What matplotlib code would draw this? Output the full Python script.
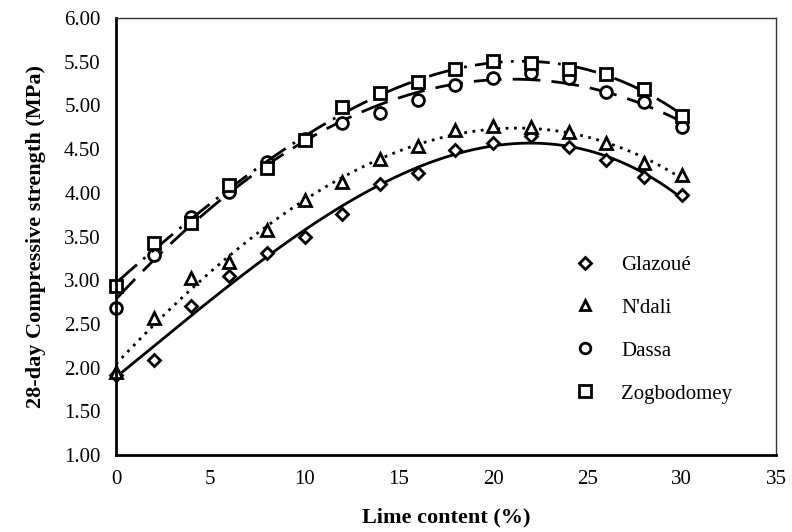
import numpy as np
import matplotlib
matplotlib.use("Agg")
import matplotlib.pyplot as plt

plt.rcParams["font.family"] = ["Liberation Serif", "DejaVu Serif"]

lime = [0, 2, 4, 6, 8, 10, 12, 14, 16, 18, 20, 22, 24, 26, 28, 30]
glazoue = [1.92, 2.09, 2.70, 3.05, 3.31, 3.49, 3.76, 4.10, 4.23, 4.49, 4.57, 4.65, 4.52, 4.38, 4.18, 3.97]
ndali = [1.95, 2.57, 3.03, 3.21, 3.57, 3.92, 4.12, 4.39, 4.53, 4.72, 4.76, 4.75, 4.69, 4.57, 4.34, 4.20]
dassa = [2.68, 3.29, 3.72, 4.01, 4.35, 4.61, 4.80, 4.91, 5.06, 5.23, 5.31, 5.37, 5.31, 5.15, 5.04, 4.75]
zogbo = [2.93, 3.43, 3.66, 4.09, 4.28, 4.60, 4.98, 5.14, 5.27, 5.42, 5.51, 5.48, 5.42, 5.36, 5.19, 4.88]

labels = ["Glazoué", "N'dali", "Dassa", "Zogbodomey"]
series = [glazoue, ndali, dassa, zogbo]
markers = ["D", "^", "o", "s"]
msizes = [6.5, 8.5, 8.5, 9]
styles = ["-", (0, (1, 2)), (0, (10, 4)), (0, (10, 3, 1, 3))]

fig = plt.figure(figsize=(7.92, 5.32), dpi=100)
ax = fig.add_axes([116 / 792, 1 - 455 / 532, 660 / 792, 437 / 532])

xs = np.linspace(0, 30, 200)
for y, lab, m, ms, ls in zip(series, labels, markers, msizes, styles):
    coef = np.polyfit(lime, y, 3)
    ax.plot(xs, np.polyval(coef, xs), color="black", lw=2, linestyle=ls)
    ax.plot(lime, y, linestyle="none", marker=m, ms=ms, mfc="white",
            mec="black", mew=2, label=lab, clip_on=False)

ax.set_xlim(0, 35)
ax.set_ylim(1, 6)
ax.set_xticks(range(0, 36, 5))
ax.set_yticks(np.arange(1, 6.01, 0.5))
ax.set_yticklabels([f"{v:.2f}" for v in np.arange(1, 6.01, 0.5)])
ax.tick_params(length=0, labelsize=15, pad=11)
ax.tick_params(axis="y", pad=11)

for s in ["left", "bottom"]:
    ax.spines[s].set_linewidth(2)
for s in ["top", "right"]:
    ax.spines[s].set_linewidth(1)
    ax.spines[s].set_color("#333333")

ax.set_xlabel("Lime content (%)", fontsize=16, fontweight="bold", labelpad=13)
ax.set_ylabel("28-day Compressive strength (MPa)", fontsize=16, fontweight="bold", labelpad=13)

ax.legend(loc="upper left", bbox_to_anchor=(0.65, 0.50), frameon=False,
          fontsize=15, handletextpad=0.75, labelspacing=1.12, markerscale=0.9)

fig.savefig("out.png", dpi=100)
